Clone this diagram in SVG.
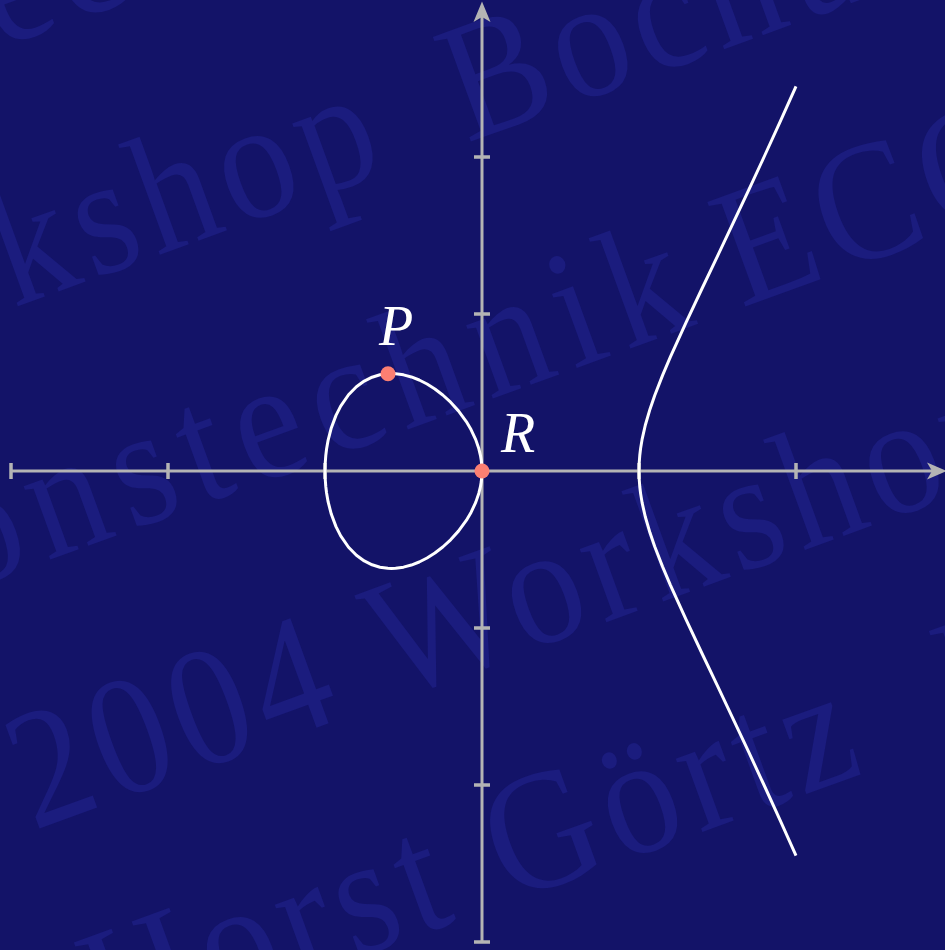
<svg xmlns="http://www.w3.org/2000/svg" width="945" height="950" viewBox="0 0 945 950">
<style>
.wm{fill:#1b1c7e;font-family:"Liberation Serif","Times New Roman",serif;font-size:170px;letter-spacing:9px}
.ax{stroke:#b4b4b4;stroke-width:3;fill:none}
.tick{stroke:#b4b4b4;stroke-width:3.5}
.head{fill:#b4b4b4}
.curve{stroke:#ffffff;stroke-width:3;fill:none;stroke-linejoin:round}
.pt{fill:#fb7f72}
.lbl{fill:#ffffff;font-family:"Liberation Serif","Times New Roman",serif;font-style:italic;font-size:56px}
</style>
<rect id="background" x="0" y="0" width="945" height="950" fill="#131368"/>
<g id="watermark" transform="rotate(-20) scale(0.9,1)">
<text class="wm" x="-1061" y="45">Informationstechnik ECC</text>
<text class="wm" x="-418" y="294">Workshop</text>
<text class="wm" x="433" y="294">Bochum</text>
<text class="wm" x="-1039" y="543" textLength="1654" lengthAdjust="spacing">Informationstechnik</text>
<text class="wm" x="657" y="543">ECC</text>
<text class="wm" x="-281" y="792">2004 Workshop</text>
<text class="wm" x="-286" y="1022">Horst</text>
<text class="wm" x="188" y="1022">Görtz</text>
<text class="wm" x="724" y="1022">Institut</text>
</g>
<g id="axes">
<line class="ax" x1="11" y1="471" x2="932" y2="471"/>
<line class="ax" x1="482" y1="942" x2="482" y2="17"/>
<g id="ticks">
<line class="tick" x1="11" y1="463" x2="11" y2="479"/>
<line class="tick" x1="168" y1="463" x2="168" y2="479"/>
<line class="tick" x1="325" y1="463" x2="325" y2="479"/>
<line class="tick" x1="639" y1="463" x2="639" y2="479"/>
<line class="tick" x1="796" y1="463" x2="796" y2="479"/>
<line class="tick" x1="474" y1="157" x2="490" y2="157"/>
<line class="tick" x1="474" y1="314" x2="490" y2="314"/>
<line class="tick" x1="474" y1="628" x2="490" y2="628"/>
<line class="tick" x1="474" y1="785" x2="490" y2="785"/>
<line class="tick" x1="474" y1="942" x2="490" y2="942"/>
</g>
<polygon class="head" points="947,471 927,462.5 932,471 927,479.5"/>
<polygon class="head" points="482,1.5 473.5,22 482,17 490.5,22"/>
</g>
<g id="curve">
<path id="oval" class="curve" d="M482,471 L481.84,466 L481.22,459.9 L480.43,455.3 L478.86,448.8 L475.72,439.63 L471.01,429.56 L466.3,421.6 L458.45,410.88 L450.6,402.21 L442.75,394.99 L434.9,388.97 L427.05,383.99 L419.2,379.99 L411.35,376.95 L403.5,374.86 L395.65,373.76 L391.35,373.6 L387.8,373.71 L379.95,374.81 L372.1,377.19 L364.25,381.07 L356.4,386.74 L348.55,394.75 L340.7,406.08 L335.99,415.35 L331.28,427.93 L328.14,440.07 L326.57,448.96 L325.79,455.36 L325.16,464 L325,471 L325.16,478 L325.79,486.64 L326.57,493.04 L328.14,501.93 L331.28,514.07 L335.99,526.65 L340.7,535.92 L348.55,547.25 L356.4,555.26 L364.25,560.93 L372.1,564.81 L379.95,567.19 L387.8,568.29 L391.35,568.4 L395.65,568.24 L403.5,567.14 L411.35,565.05 L419.2,562.01 L427.05,558.01 L434.9,553.03 L442.75,547.01 L450.6,539.79 L458.45,531.12 L466.3,520.4 L471.01,512.44 L475.72,502.37 L478.86,493.2 L480.43,486.7 L481.22,482.1 L481.84,476 Z"/>
<path id="branch" class="curve" d="M796,86.43 L780.3,121.38 L764.6,155.75 L748.9,189.58 L733.2,222.96 L717.5,256.02 L701.8,288.99 L686.1,322.31 L670.4,356.92 L662.55,375.39 L654.7,395.54 L649.99,409.18 L645.28,425.26 L642.14,439.13 L640.57,448.63 L639.79,455.24 L639.2,463 L639,471 L639.2,479 L639.79,486.76 L640.57,493.37 L642.14,502.87 L645.28,516.74 L649.99,532.82 L654.7,546.46 L662.55,566.61 L670.4,585.08 L686.1,619.69 L701.8,653.01 L717.5,685.98 L733.2,719.04 L748.9,752.42 L764.6,786.25 L780.3,820.62 L796,855.57"/>
</g>
<g id="P">
<circle class="pt" cx="388" cy="373.7" r="7.5"/>
<text class="lbl" x="379" y="345">P</text>
</g>
<g id="R">
<circle class="pt" cx="482" cy="471" r="7.5"/>
<text class="lbl" x="501" y="452">R</text>
</g>
</svg>
